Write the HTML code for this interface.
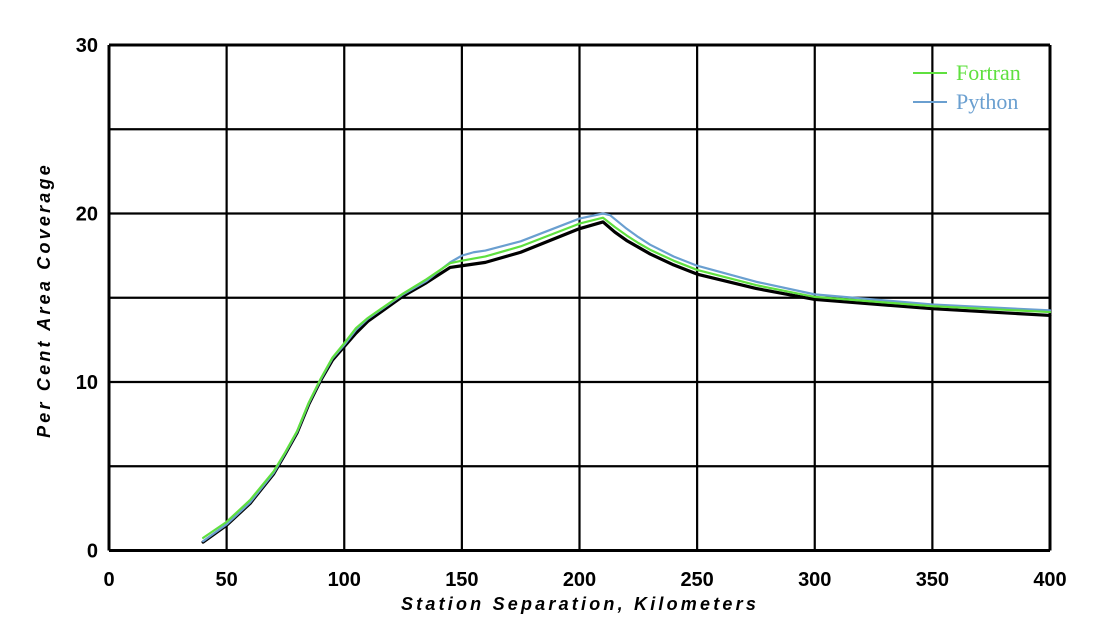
<!DOCTYPE html>
<html><head><meta charset="utf-8"><style>
body{margin:0;background:#fff;}
svg{display:block;}
.tick{font-family:"Liberation Sans",sans-serif;font-weight:bold;font-size:20px;fill:#000;}
.title{font-family:"Liberation Sans",sans-serif;font-weight:bold;font-style:italic;font-size:18px;letter-spacing:3.2px;fill:#000;}
.leg{font-family:"Liberation Serif",serif;font-size:22px;}
</style></head><body>
<svg id="chart" width="1112" height="632" viewBox="0 0 1112 632">
<g id="grid"></g>
<g id="series"></g>
<g id="ticks"></g>
<text class="title" x="580" y="610" text-anchor="middle">Station Separation, Kilometers</text>
<text class="title" transform="translate(50,300) rotate(-90)" text-anchor="middle">Per Cent Area Coverage</text>
<g>
<line x1="913" y1="73" x2="947" y2="73" stroke="#5fe03f" stroke-width="2"/>
<text class="leg" x="956" y="80" fill="#5fe03f">Fortran</text>
<line x1="913" y1="102" x2="947" y2="102" stroke="#6a9fd0" stroke-width="2"/>
<text class="leg" x="956" y="109" fill="#6a9fd0">Python</text>
</g>
</svg>
<script>
const xTicks=[0,50,100,150,200,250,300,350,400];
const yTicks=[0,10,20,30];
const yGrid=[0,5,10,15,20,25,30];
const xOrig=[40,50,60,70,75,80,85,90,95,100,105,110,125,135,145,150,160,175,200,210,215,220,225,230,240,250,275,300,350,400];
const yOrig=[0.5,1.5,2.8,4.55,5.75,7.0,8.7,10.1,11.3,12.1,12.9,13.6,15.1,15.9,16.8,16.9,17.1,17.7,19.1,19.5,18.9,18.4,18.0,17.6,16.95,16.4,15.55,14.9,14.35,13.95];
const xF=[40,50,60,70,75,80,85,90,95,100,105,110,125,135,145,150,160,175,200,210,215,220,225,230,240,250,275,300,350,400];
const yF=[0.75,1.7,3.0,4.7,5.85,7.1,8.8,10.2,11.45,12.3,13.2,13.8,15.25,16.1,17.05,17.2,17.45,18.05,19.4,19.75,19.2,18.7,18.25,17.85,17.2,16.65,15.75,15.05,14.5,14.15];
const xP=[40,50,60,70,75,80,85,90,95,100,105,110,125,135,145,150,155,160,175,200,210,213,220,225,230,240,250,275,300,350,400];
const yP=[0.55,1.55,2.85,4.6,5.8,7.05,8.75,10.15,11.4,12.2,13.1,13.75,15.2,16.0,17.1,17.5,17.7,17.8,18.35,19.7,20.0,19.9,19.1,18.6,18.15,17.45,16.9,15.95,15.2,14.6,14.25];
const X=v=>109+v*(1050-109)/400;
const Y=v=>550.5-v*(550.5-45)/30;
const NS='http://www.w3.org/2000/svg';
const grid=document.getElementById('grid'),ser=document.getElementById('series'),tk=document.getElementById('ticks');
xTicks.forEach(t=>{
 const l=document.createElementNS(NS,'line');
 
 
 l.setAttribute('x1',X(t));l.setAttribute('x2',X(t));l.setAttribute('y1',Y(0));l.setAttribute('y2',Y(30));
 l.setAttribute('stroke','#000');l.setAttribute('stroke-width',(t==0||t==400)?3:2.2);grid.appendChild(l);
 const s=document.createElementNS(NS,'text');
 
 
 s.setAttribute('class','tick');s.setAttribute('x',X(t));s.setAttribute('y',586);s.setAttribute('text-anchor','middle');s.textContent=t;tk.appendChild(s);
});
yGrid.forEach(t=>{
 const l=document.createElementNS(NS,'line');
 
 
 l.setAttribute('x1',X(0));l.setAttribute('x2',X(400));l.setAttribute('y1',Y(t));l.setAttribute('y2',Y(t));
 l.setAttribute('stroke','#000');l.setAttribute('stroke-width',(t==0||t==30)?3:2.2);grid.appendChild(l);
});
yTicks.forEach(t=>{
 const s=document.createElementNS(NS,'text');
 
 
 s.setAttribute('class','tick');s.setAttribute('x',98);s.setAttribute('y',Y(t)+7);s.setAttribute('text-anchor','end');s.textContent=t;tk.appendChild(s);
});
function draw(xs,ys,color,w,name){
 const p=document.createElementNS(NS,'polyline');
 
 
 p.setAttribute('points',xs.map((x,i)=>X(x)+','+Y(ys[i])).join(' '));
 p.setAttribute('fill','none');p.setAttribute('stroke',color);p.setAttribute('stroke-width',w);
 p.setAttribute('stroke-linejoin','round');p.setAttribute('stroke-linecap','round');
 ser.appendChild(p);
}
draw(xOrig,yOrig,'#000',3.2,'original-curve');
draw(xP,yP,'#6a9fd0',2.2,'python-line');
draw(xF,yF,'#5fe03f',2.2,'fortran-line');
</script>
</body></html>
